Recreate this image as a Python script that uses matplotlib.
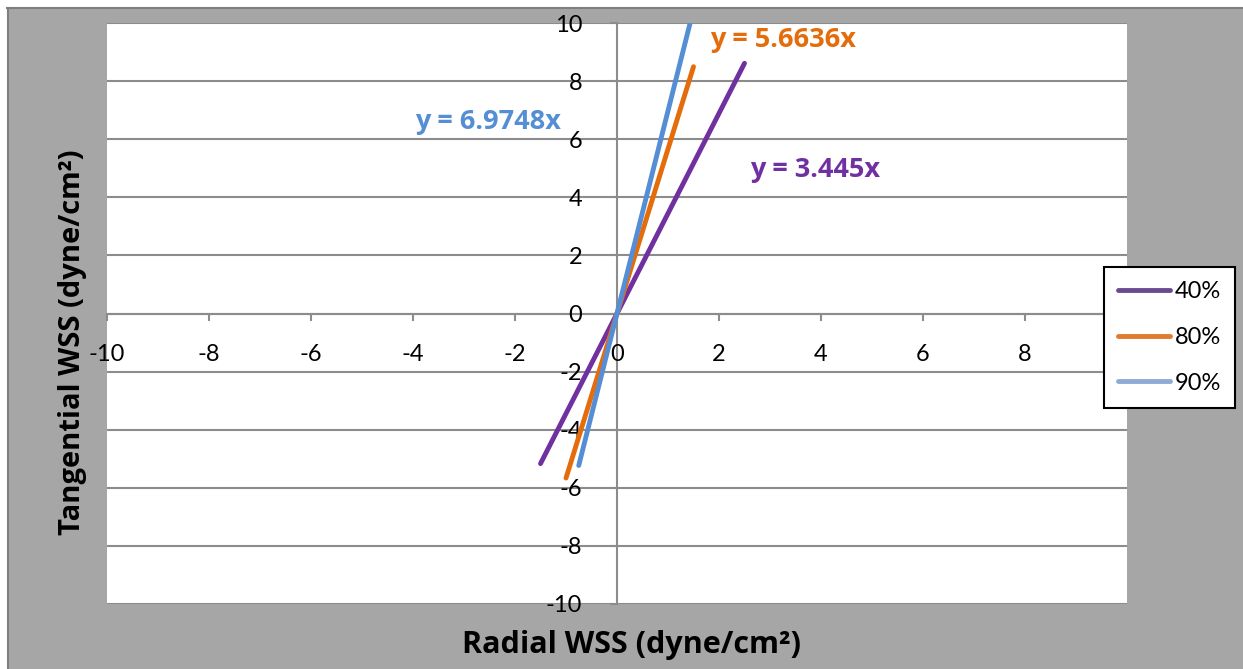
import matplotlib
matplotlib.use("Agg")
import matplotlib.pyplot as plt
import numpy as np
from matplotlib.patches import Rectangle
from matplotlib.lines import Line2D

plt.rcParams['font.family'] = ['Lato', 'DejaVu Sans']
BOLD = ['Open Sans', 'DejaVu Sans']

# Data
series_names = ["40%", "80%", "90%"]
slopes = [3.445, 5.6636, 6.9748]
x_starts = [-1.5, -1.0, -0.75]
x_ends = [2.5, 1.5, 1.5]
eq_labels = ["y = 3.445x", "y = 5.6636x", "y = 6.9748x"]
eq_pos = [(2.61, 4.95), (1.82, 9.4), (-3.96, 6.6)]
x_ticks = [-10, -8, -6, -4, -2, 0, 2, 4, 6, 8]
y_ticks = [-10, -8, -6, -4, -2, 0, 2, 4, 6, 8, 10]

line_colors = ["#7030a0", "#e46c0a", "#558ed5"]
legend_colors = ["#6a4b8f", "#e07a2e", "#8eaad6"]

W, H = 1243, 669
fig = plt.figure(figsize=(W / 100, H / 100), dpi=100)
fig.patch.set_facecolor("white")

# Outer gray chart area with darker top/left border
fig.patches.append(Rectangle((7 / W, 0), 1, 1 - 7 / H, transform=fig.transFigure,
                             facecolor="#a6a6a6", edgecolor="none", zorder=-5))
fig.lines.append(Line2D([7 / W, 1], [1 - 7.5 / H, 1 - 7.5 / H], transform=fig.transFigure,
                        color="#7f7f7f", lw=1.5, zorder=-4))
fig.lines.append(Line2D([7.5 / W, 7.5 / W], [0, 1 - 7.5 / H], transform=fig.transFigure,
                        color="#7f7f7f", lw=1.5, zorder=-4))

left, right = 107 / W, 1127 / W
bottom, top = (H - 604) / H, (H - 23) / H
ax = fig.add_axes([left, bottom, right - left, top - bottom])
ax.set_zorder(2)
ax.set_facecolor("white")
ax.set_xlim(-10, 10)
ax.set_ylim(-10, 10)

# grid lines
for yv in y_ticks:
    ax.axhline(yv, color="#8c8c8c", lw=1.5, zorder=1)

for sp in ["top", "right"]:
    ax.spines[sp].set_visible(False)
ax.spines["left"].set_position(("data", 0))
ax.spines["bottom"].set_position(("data", 0))
for sp in ["left", "bottom"]:
    ax.spines[sp].set_color("#8c8c8c")
    ax.spines[sp].set_linewidth(1.5)
    ax.spines[sp].set_zorder(1)

ax.set_xticks(x_ticks)
ax.set_yticks(y_ticks)
ax.set_xticklabels([str(v) for v in x_ticks])
ax.set_yticklabels([str(v) for v in y_ticks])
ax.tick_params(axis="x", direction="out", length=5, width=1.5, color="#8c8c8c",
               labelsize=17, pad=17)
ax.tick_params(axis="y", direction="out", length=5, width=1.5, color="#8c8c8c",
               labelsize=17, pad=20)

for s, x0, x1, c in zip(slopes, x_starts, x_ends, line_colors):
    xs = np.array([x0, x1])
    ax.plot(xs, s * xs, color=c, lw=3.5, solid_capstyle="round", zorder=3)

for lbl, (px, py), c in zip(eq_labels, eq_pos, line_colors):
    ax.text(px, py, lbl, color=c, fontsize=19.5, fontweight="bold", ha="left", va="center",
            family=BOLD)

# axis titles
fig.text(632 / W, 1 - 645 / H, "Radial WSS (dyne/cm²)", ha="center", va="center",
         fontsize=22, fontweight="bold", family=BOLD, zorder=3)
fig.text(73 / W, 1 - 342 / H, "Tangential WSS (dyne/cm²)", ha="center", va="center",
         fontsize=21, fontweight="bold", rotation=90, family=BOLD, zorder=3)

# legend
handles = [Line2D([0], [0], color=c, lw=3.5, solid_capstyle="round") for c in legend_colors]
leg = fig.legend(handles, series_names, loc="upper left",
                 bbox_to_anchor=(1104 / W, 1 - 267 / H), fontsize=17,
                 frameon=True, fancybox=False, edgecolor="black", framealpha=1,
                 handlelength=2.2, handletextpad=0.2, labelspacing=1.05,
                 borderpad=0.6, borderaxespad=0)
leg.get_frame().set_linewidth(1.5)
leg.set_zorder(5)

fig.savefig("out.png", dpi=100, facecolor=fig.get_facecolor())
